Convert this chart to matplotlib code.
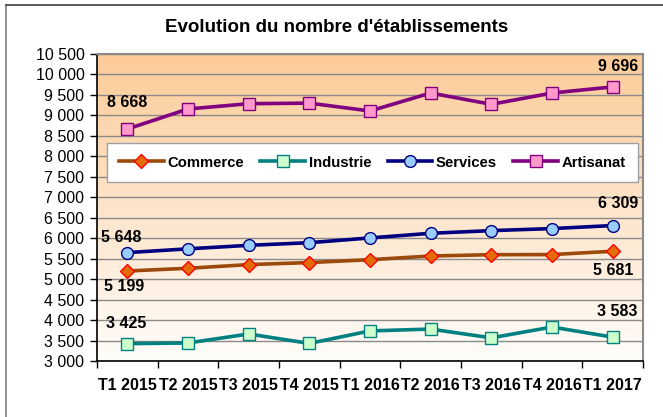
import matplotlib.pyplot as plt
import numpy as np
from matplotlib.colors import LinearSegmentedColormap

plt.rcParams['font.family'] = ['Liberation Sans', 'DejaVu Sans']

quarters = ['T1 2015', 'T2 2015', 'T3 2015', 'T4 2015', 'T1 2016',
            'T2 2016', 'T3 2016', 'T4 2016', 'T1 2017']
commerce = [5199, 5265, 5355, 5405, 5475, 5565, 5597, 5600, 5681]
industrie = [3425, 3440, 3660, 3430, 3735, 3780, 3565, 3830, 3583]
services = [5648, 5740, 5826, 5890, 6007, 6120, 6185, 6235, 6309]
artisanat = [8668, 9157, 9286, 9300, 9108, 9547, 9271, 9547, 9696]

fig = plt.figure(figsize=(6.63, 4.17), dpi=100)
ax = fig.add_axes([0.1463, 0.1343, 0.8235, 0.7362])

# outer chart border (left and top only visible)
fig.add_artist(plt.Line2D([6 / 663, 6 / 663], [0, 1 - 5 / 417], color='#808080', lw=1.2))
fig.add_artist(plt.Line2D([6 / 663, 1], [1 - 5 / 417, 1 - 5 / 417], color='#404040', lw=1.2))

# gradient background
cmap = LinearSegmentedColormap.from_list('bg', ['#FFFDFB', '#FCCB98'])
grad = np.linspace(0, 1, 256).reshape(-1, 1)
ax.imshow(grad, cmap=cmap, aspect='auto', extent=(0, 1, 0, 1),
          transform=ax.transAxes, origin='lower', zorder=0)

x = np.arange(len(quarters))
ax.plot(x, commerce, color='#9C4A0C', lw=2.6, marker='D', ms=7.5,
        mfc='#E36C0A', mec='#FF0000', mew=1, label='Commerce', zorder=3)
ax.plot(x, industrie, color='#008080', lw=2.6, marker='s', ms=8.5,
        mfc='#CCFFCC', mec='#008080', mew=1, label='Industrie', zorder=3)
ax.plot(x, services, color='#000080', lw=2.6, marker='o', ms=8.5,
        mfc='#99CCFF', mec='#000080', mew=1, label='Services', zorder=3)
ax.plot(x, artisanat, color='#800080', lw=2.6, marker='s', ms=9,
        mfc='#FF99CC', mec='#800080', mew=1, label='Artisanat', zorder=3)

ax.set_xlim(-0.5, len(quarters) - 0.5)
ax.set_ylim(3000, 10500)
ax.set_yticks(np.arange(3000, 10501, 500))
ax.set_yticklabels([f'{v:,}'.replace(',', ' ') for v in range(3000, 10501, 500)],
                   fontsize=11.5)
ax.set_xticks(x)
ax.set_xticklabels(quarters, fontsize=11.5, fontweight='bold')
ax.set_xticks(np.arange(-0.5, len(quarters)), minor=True)
ax.tick_params(axis='x', which='major', length=0, pad=12)
ax.tick_params(axis='x', which='minor', length=5, width=1, direction='out')
ax.tick_params(axis='y', length=5, width=1, pad=4)

ax.grid(axis='y', color='#8a8a8a', lw=1, zorder=1)
ax.set_axisbelow(True)
for side in ['top', 'right']:
    ax.spines[side].set_color('#8a8a8a')
    ax.spines[side].set_linewidth(1.5)
for side in ['left', 'bottom']:
    ax.spines[side].set_color('black')
    ax.spines[side].set_linewidth(1.2)

# data labels for first and last points
def lab(v, i, dx, dy):
    ax.annotate(f'{v:,}'.replace(',', ' '), (x[i], v), xytext=(dx, dy),
                textcoords='offset pixels', ha='center', va='center',
                fontsize=11.5, fontweight='bold', zorder=4)

lab(artisanat[0], 0, 0, 26)
lab(artisanat[-1], 8, 5, 20)
lab(services[0], 0, -6, 15)
lab(services[-1], 8, 5, 22)
lab(commerce[0], 0, -3, -16)
lab(commerce[-1], 8, 1, -19)
lab(industrie[0], 0, -1, 20)
lab(industrie[-1], 8, 5, 26)

leg = ax.legend(loc='center', bbox_to_anchor=(0.5045, 0.646), ncol=4,
                prop={'weight': 'bold', 'size': 10.7}, frameon=True,
                fancybox=False, framealpha=1, edgecolor='#a0a0a0',
                handlelength=3.0, handletextpad=0.25, columnspacing=1.1,
                borderpad=0.85)
leg.get_frame().set_linewidth(1)

fig.text(0.507, 1 - 28 / 417, "Evolution du nombre d'établissements",
         ha='center', va='center', fontsize=13.5, fontweight='bold')

fig.savefig('out.png', dpi=100)
